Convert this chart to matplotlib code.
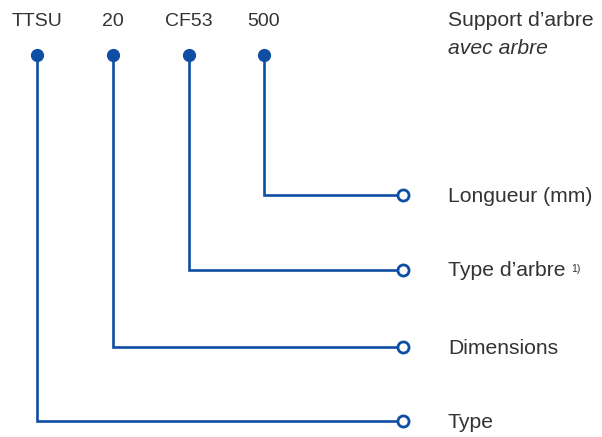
import matplotlib.pyplot as plt

# designation key: code parts and what each one means
codes = ['TTSU', '20', 'CF53', '500']
meanings = ['Type', 'Dimensions', "Type d\u2019arbre", 'Longueur (mm)']
title = "Support d\u2019arbre"
subtitle = 'avec arbre'

BLUE = '#0e4ea3'
GREY = '#333333'

# layout in pixel space
code_x = [37, 113, 189, 264]
level_y = [421, 347, 270, 195]
dot_y = 55
end_x = 403
text_x = 448
FS = 14
FS_R = 15.2

plt.rcParams['font.family'] = ['Liberation Sans', 'DejaVu Sans']

fig = plt.figure(figsize=(6.02, 4.37), dpi=100)
ax = fig.add_axes([0, 0, 1, 1])
ax.set_xlim(0, 602)
ax.set_ylim(437, 0)
ax.axis('off')

labels = []
for code, x, y, label in zip(codes, code_x, level_y, meanings):
    ax.text(x, 22, code, ha='center', va='center', fontsize=FS, color=GREY)
    ax.plot([x, x, end_x], [dot_y, y, y], color=BLUE, lw=1.9,
            solid_joinstyle='miter', zorder=2)
    ax.plot(x, dot_y, 'o', ms=8.5, color=BLUE, zorder=3)
    ax.plot(end_x, y, 'o', ms=8, mfc='white', mec=BLUE, mew=2, zorder=3)
    t = ax.text(text_x, y + 1, label, ha='left', va='center', fontsize=FS_R,
                color=GREY)
    labels.append(t)

# footnote marker just after the shaft type label
fig.canvas.draw()
bb = labels[2].get_window_extent()
ax.text(bb.x1 + 6, bb.y1 - 2, '1)', ha='left', va='top', fontsize=7.5,
        color=GREY, transform=None)

ax.text(text_x, 21, title, ha='left', va='center', fontsize=FS_R, color=GREY)
ax.text(text_x, 48, subtitle, ha='left', va='center', fontsize=FS_R,
        color=GREY, style='italic')

fig.savefig('out.png', dpi=100)
